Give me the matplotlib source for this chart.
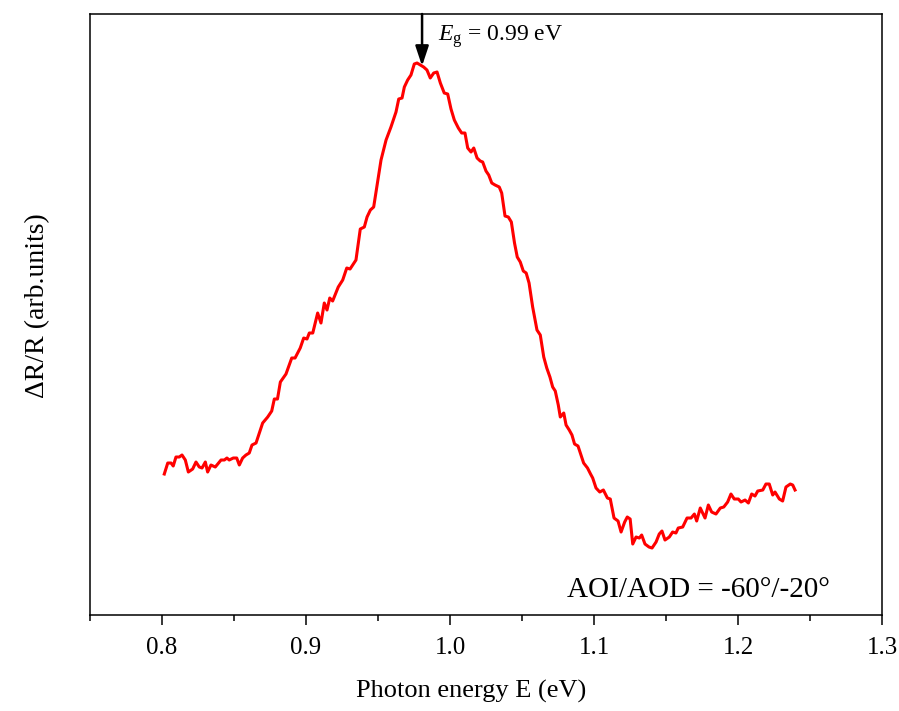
import matplotlib
matplotlib.use("Agg")
import matplotlib.pyplot as plt
from matplotlib.ticker import MultipleLocator

plt.rcParams["font.family"] = ["Liberation Serif", "DejaVu Serif"]
plt.rcParams["mathtext.fontset"] = "custom"
plt.rcParams["mathtext.rm"] = "Liberation Serif"
plt.rcParams["mathtext.it"] = "Liberation Serif:italic"

# photon energy (eV) and reflectance change (arb. units)
energy = [
    0.8016, 0.8040, 0.8063, 0.8078, 0.8097, 0.8120, 0.8139, 0.8162, 0.8183, 0.8213,
    0.8236, 0.8259, 0.8278, 0.8301, 0.8317, 0.8340, 0.8370, 0.8410, 0.8433, 0.8451,
    0.8467, 0.8495, 0.8519, 0.8537, 0.8560, 0.8583, 0.8606, 0.8625, 0.8653, 0.8676,
    0.8699, 0.8734, 0.8762, 0.8780, 0.8802, 0.8822, 0.8861, 0.8901, 0.8924, 0.8960,
    0.8984, 0.9007, 0.9023, 0.9047, 0.9081, 0.9104, 0.9127, 0.9146, 0.9165, 0.9185,
    0.9224, 0.9255, 0.9283, 0.9306, 0.9347, 0.9377, 0.9405, 0.9424, 0.9447, 0.9470,
    0.9521, 0.9556, 0.9590, 0.9625, 0.9644, 0.9667, 0.9683, 0.9706, 0.9729, 0.9752,
    0.9771, 0.9794, 0.9817, 0.9840, 0.9863, 0.9887, 0.9910, 0.9933, 0.9960, 0.9984,
    1.0007, 1.0030, 1.0058, 1.0081, 1.0104, 1.0123, 1.0146, 1.0165, 1.0188, 1.0210,
    1.0227, 1.0250, 1.0269, 1.0290, 1.0313, 1.0342, 1.0359, 1.0382, 1.0405, 1.0426,
    1.0448, 1.0467, 1.0488, 1.0509, 1.0529, 1.0549, 1.0574, 1.0604, 1.0627, 1.0651,
    1.0672, 1.0694, 1.0713, 1.0731, 1.0752, 1.0766, 1.0790, 1.0806, 1.0828, 1.0847,
    1.0865, 1.0889, 1.0910, 1.0928, 1.0955, 1.0976, 1.0991, 1.1014, 1.1040, 1.1065,
    1.1093, 1.1113, 1.1139, 1.1167, 1.1188, 1.1213, 1.1231, 1.1251, 1.1269, 1.1292,
    1.1315, 1.1331, 1.1354, 1.1382, 1.1403, 1.1431, 1.1453, 1.1472, 1.1493, 1.1523,
    1.1546, 1.1569, 1.1585, 1.1616, 1.1646, 1.1674, 1.1697, 1.1713, 1.1738, 1.1771,
    1.1794, 1.1817, 1.1847, 1.1877, 1.1901, 1.1928, 1.1951, 1.1974, 1.2002, 1.2021,
    1.2049, 1.2072, 1.2095, 1.2118, 1.2137, 1.2172, 1.2194, 1.2217, 1.2241, 1.2257,
    1.2287, 1.2310, 1.2333, 1.2363, 1.2380, 1.2396,
]
signal = [
    1.41, 1.52, 1.52, 1.49, 1.58, 1.58, 1.60, 1.55, 1.43, 1.46,
    1.53, 1.48, 1.47, 1.53, 1.43, 1.50, 1.48, 1.55, 1.55, 1.57,
    1.55, 1.57, 1.57, 1.50, 1.57, 1.60, 1.62, 1.70, 1.72, 1.82,
    1.92, 1.98, 2.04, 2.16, 2.16, 2.33, 2.41, 2.57, 2.57, 2.67,
    2.77, 2.76, 2.82, 2.82, 3.02, 2.92, 3.12, 3.05, 3.17, 3.14,
    3.28, 3.35, 3.47, 3.46, 3.55, 3.86, 3.88, 3.98, 4.05, 4.08,
    4.55, 4.75, 4.88, 5.03, 5.16, 5.17, 5.28, 5.35, 5.40, 5.51,
    5.52, 5.50, 5.48, 5.45, 5.37, 5.42, 5.43, 5.32, 5.22, 5.21,
    5.06, 4.95, 4.87, 4.82, 4.82, 4.67, 4.63, 4.67, 4.57, 4.54,
    4.53, 4.44, 4.40, 4.32, 4.30, 4.28, 4.22, 3.99, 3.98, 3.93,
    3.72, 3.58, 3.53, 3.44, 3.42, 3.32, 3.08, 2.85, 2.80, 2.58,
    2.47, 2.38, 2.28, 2.24, 2.10, 1.98, 2.02, 1.90, 1.85, 1.80,
    1.71, 1.69, 1.60, 1.52, 1.47, 1.41, 1.37, 1.27, 1.23, 1.25,
    1.17, 1.16, 0.97, 0.94, 0.83, 0.93, 0.98, 0.96, 0.71, 0.78,
    0.77, 0.80, 0.71, 0.68, 0.67, 0.73, 0.81, 0.84, 0.75, 0.78,
    0.83, 0.82, 0.87, 0.88, 0.97, 0.97, 1.01, 0.94, 1.07, 0.97,
    1.10, 1.03, 1.01, 1.07, 1.08, 1.13, 1.21, 1.16, 1.16, 1.13,
    1.15, 1.12, 1.21, 1.19, 1.24, 1.25, 1.31, 1.31, 1.20, 1.23,
    1.16, 1.14, 1.28, 1.31, 1.30, 1.25,
]

eg_energy = 0.9806
eg_signal = 5.49

fig = plt.figure(figsize=(8.99, 7.11), dpi=100)
ax = fig.add_axes([0.1001, 0.135, 0.881, 0.8453])

ax.plot(energy, signal, color="#ff0000", linewidth=2.2)

ax.set_xlim(0.75, 1.3)
ax.set_ylim(0, 6.01)
ax.xaxis.set_major_locator(MultipleLocator(0.1))
ax.xaxis.set_minor_locator(MultipleLocator(0.05))
ax.set_yticks([])
ax.tick_params(axis="x", which="major", direction="out", length=7.5, width=1.1,
               labelsize=18, pad=8)
ax.tick_params(axis="x", which="minor", direction="out", length=4.5, width=1.1)
for side in ax.spines.values():
    side.set_linewidth(1.1)

ax.set_xlabel("Photon energy E (eV)", fontsize=19)
ax.xaxis.set_label_coords(0.481, -0.108)
ax.set_ylabel("ΔR/R (arb.units)", fontsize=20)
ax.yaxis.set_label_coords(-0.05, 0.514)

# band gap marker
ax.annotate("", xy=(eg_energy, eg_signal), xytext=(eg_energy, 6.01),
            arrowprops=dict(arrowstyle="-|>,head_length=1.2,head_width=0.4",
                            color="black", lw=1.8, shrinkA=0, shrinkB=0))
ax.text(0.9917, 5.78, r"$E_{\mathrm{g}}$ = 0.99 eV", fontsize=17,
        ha="left", va="center")

ax.text(0.934, 0.042, "AOI/AOD = -60°/-20°", transform=ax.transAxes,
        fontsize=21, ha="right", va="center")

fig.savefig("out.png", dpi=100)
